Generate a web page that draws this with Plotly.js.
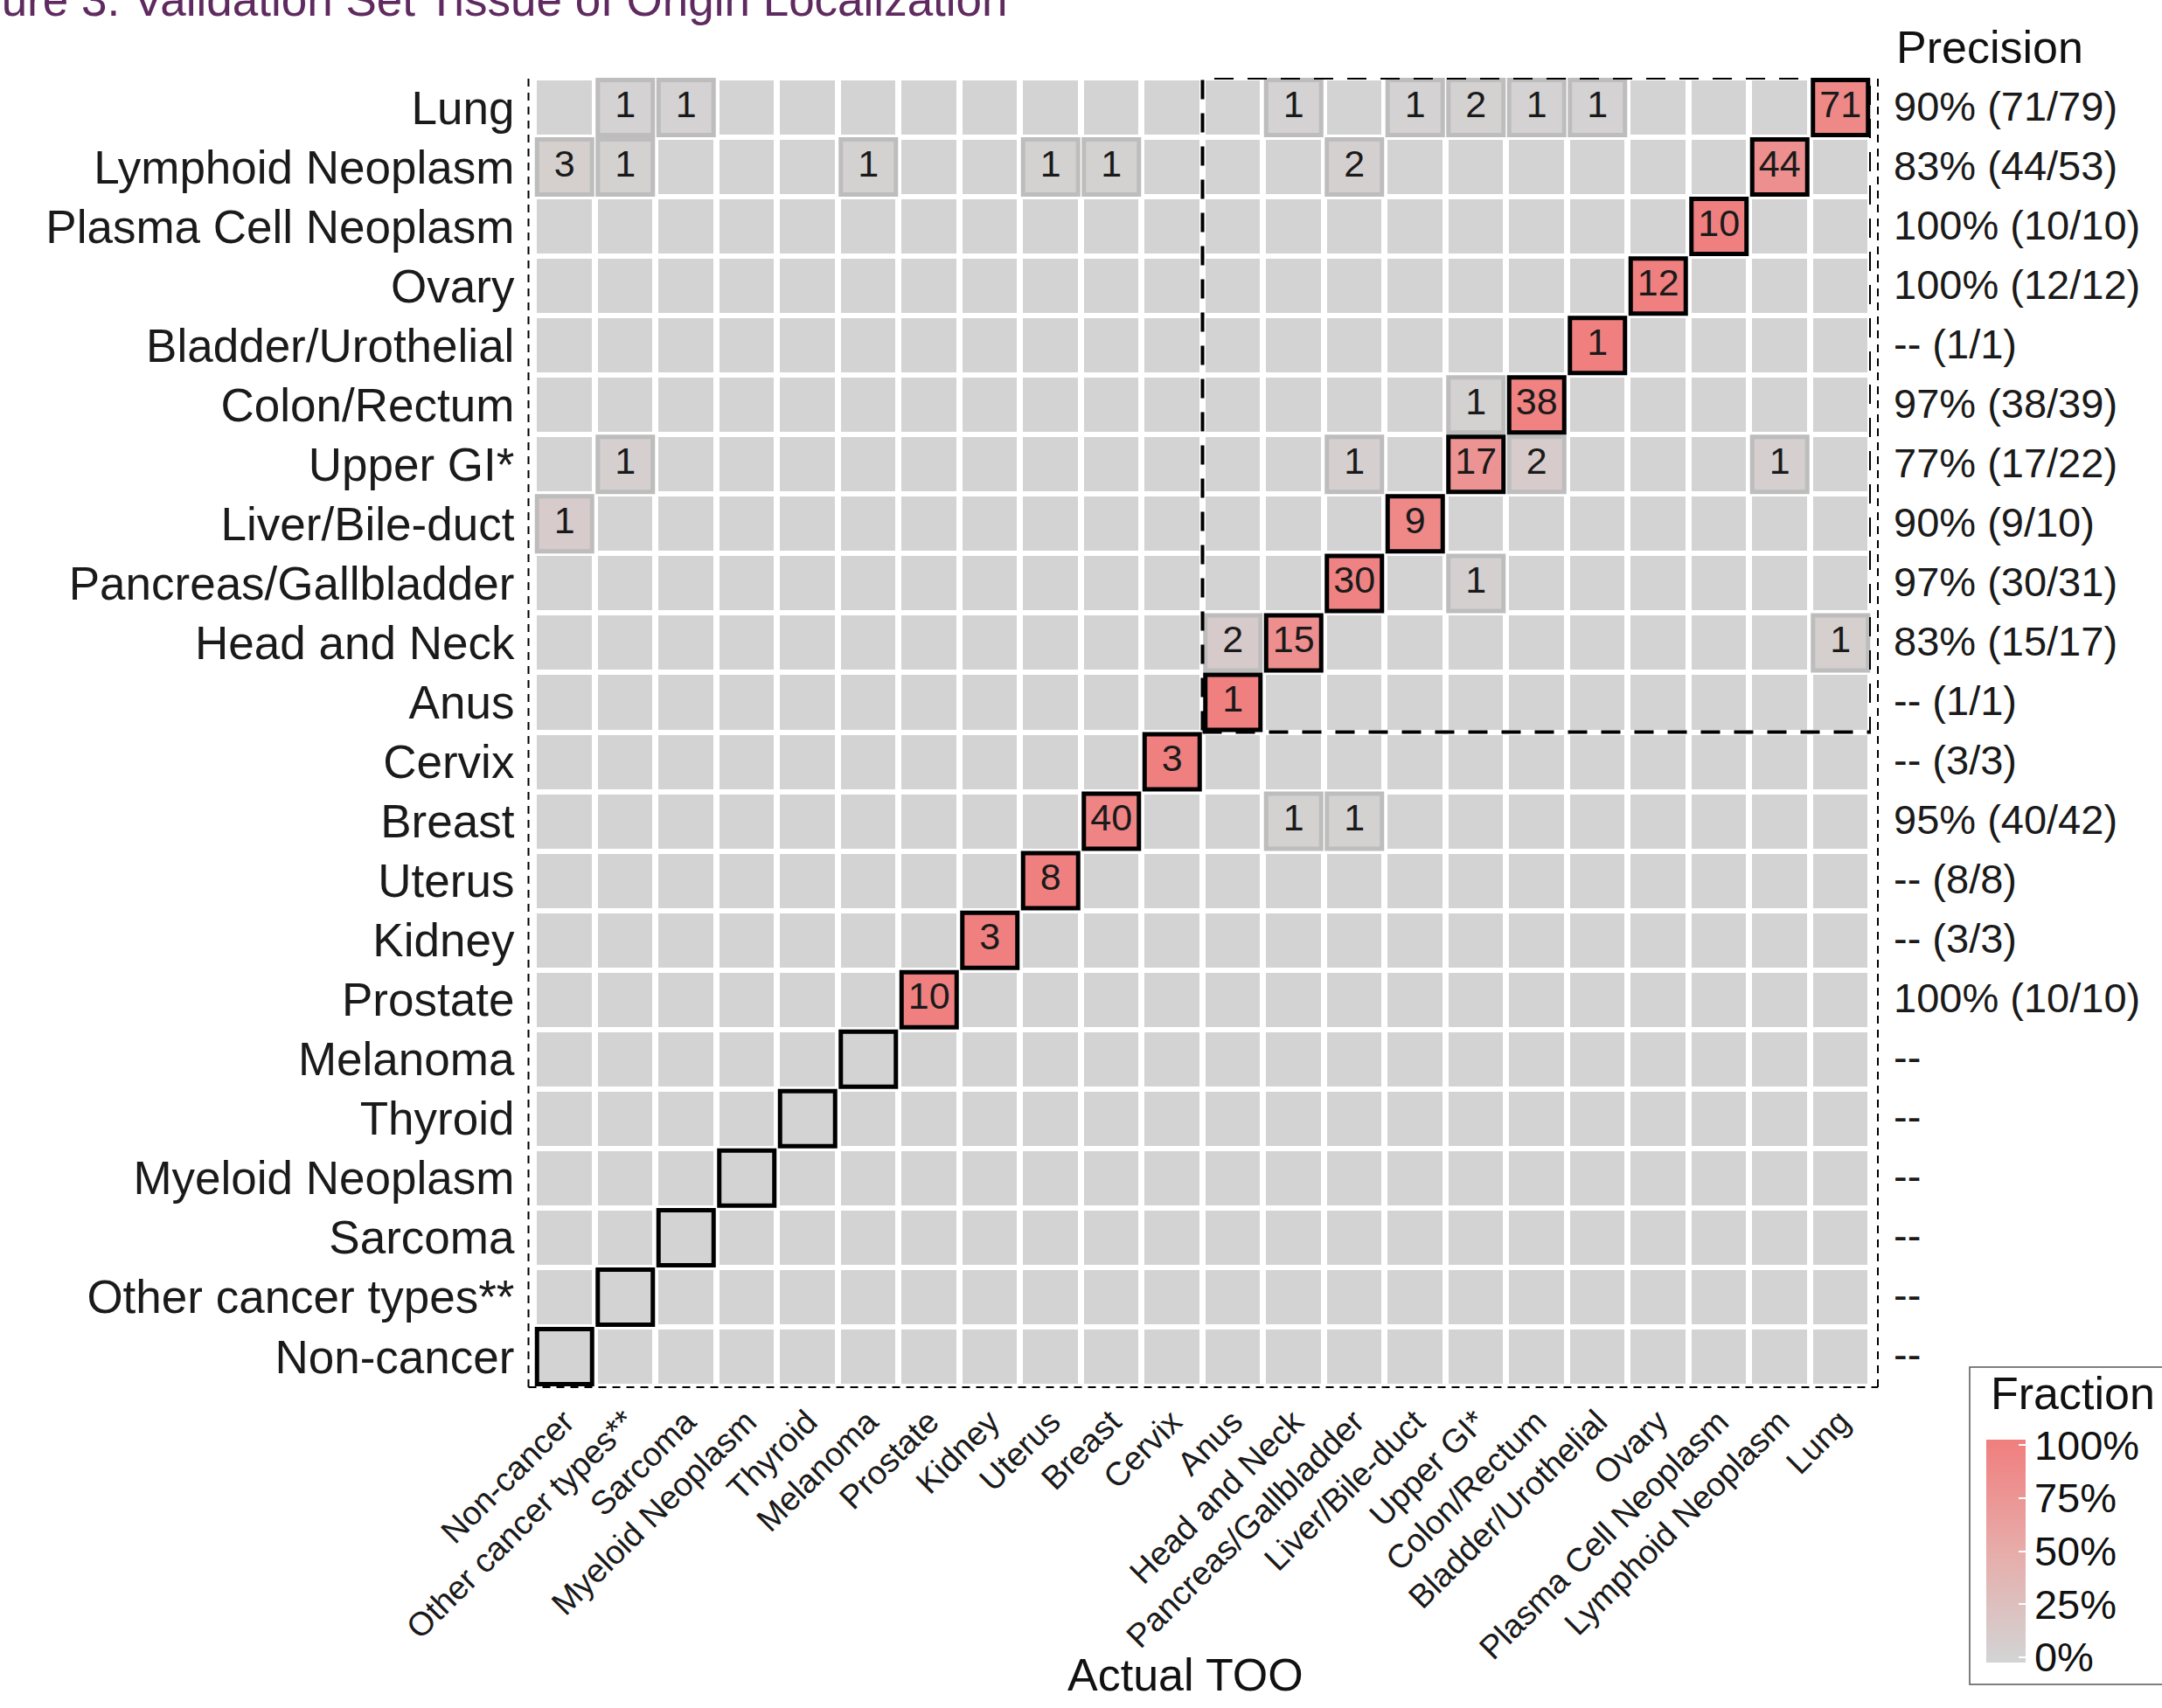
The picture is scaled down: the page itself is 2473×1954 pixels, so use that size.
<!DOCTYPE html>
<html>
<head>
<meta charset="utf-8">
<script src="https://cdn.plot.ly/plotly-3.0.1.min.js"></script>
<style>html,body{margin:0;padding:0;background:#fff;}#chart{width:2473px;height:1954px;}</style>
</head>
<body>
<div id="chart"></div>
<script>
// ---- data ----
const categories = ['Non-cancer','Other cancer types**','Sarcoma','Myeloid Neoplasm','Thyroid','Melanoma','Prostate','Kidney','Uterus','Breast','Cervix','Anus','Head and Neck','Pancreas/Gallbladder','Liver/Bile-duct','Upper GI*','Colon/Rectum','Bladder/Urothelial','Ovary','Plasma Cell Neoplasm','Lymphoid Neoplasm','Lung'];

const cellPredicted = [
  'Lung','Lung','Lung','Lung','Lung','Lung','Lung','Lung',
  'Lymphoid Neoplasm','Lymphoid Neoplasm','Lymphoid Neoplasm','Lymphoid Neoplasm','Lymphoid Neoplasm','Lymphoid Neoplasm','Lymphoid Neoplasm',
  'Plasma Cell Neoplasm','Ovary','Bladder/Urothelial',
  'Colon/Rectum','Colon/Rectum',
  'Upper GI*','Upper GI*','Upper GI*','Upper GI*','Upper GI*',
  'Liver/Bile-duct','Liver/Bile-duct',
  'Pancreas/Gallbladder','Pancreas/Gallbladder',
  'Head and Neck','Head and Neck','Head and Neck',
  'Anus','Cervix',
  'Breast','Breast','Breast',
  'Uterus','Kidney','Prostate'
];
const cellActual = [
  'Other cancer types**','Sarcoma','Head and Neck','Liver/Bile-duct','Upper GI*','Colon/Rectum','Bladder/Urothelial','Lung',
  'Non-cancer','Other cancer types**','Melanoma','Uterus','Breast','Pancreas/Gallbladder','Lymphoid Neoplasm',
  'Plasma Cell Neoplasm','Ovary','Bladder/Urothelial',
  'Upper GI*','Colon/Rectum',
  'Other cancer types**','Pancreas/Gallbladder','Upper GI*','Colon/Rectum','Lymphoid Neoplasm',
  'Non-cancer','Liver/Bile-duct',
  'Pancreas/Gallbladder','Upper GI*',
  'Anus','Head and Neck','Lung',
  'Anus','Cervix',
  'Breast','Head and Neck','Pancreas/Gallbladder',
  'Uterus','Kidney','Prostate'
];
const cellCount = [
  1,1,1,1,2,1,1,71,
  3,1,1,1,1,2,44,
  10,12,1,
  1,38,
  1,1,17,2,1,
  1,9,
  30,1,
  2,15,1,
  1,3,
  40,1,1,
  8,3,10
];

const precisionLabels = ['--','--','--','--','--','--','100% (10/10)','-- (3/3)','-- (8/8)','95% (40/42)','-- (3/3)','-- (1/1)','83% (15/17)','97% (30/31)','90% (9/10)','77% (17/22)','97% (38/39)','-- (1/1)','100% (12/12)','100% (10/10)','83% (44/53)','90% (71/79)'];

const fractionTickVals = [0, 0.25, 0.5, 0.75, 1];
const fractionTickText = ['0%','25%','50%','75%','100%'];

// ---- derived ----
const n = categories.length;
const idx = {}; categories.forEach((c,i)=>idx[c]=i);
const rowTotal = new Array(n).fill(0);
cellPredicted.forEach((p,k)=>{ rowTotal[idx[p]] += cellCount[k]; });
const z = [];
for (let r=0;r<n;r++){ z.push(new Array(n).fill(0)); }
cellPredicted.forEach((p,k)=>{ z[idx[p]][idx[cellActual[k]]] = cellCount[k]/rowTotal[idx[p]]; });

// bordered cells
const grayX=[],grayY=[],grayC=[];
const blackX=[],blackY=[],blackC=[];
cellPredicted.forEach((p,k)=>{
  const a = cellActual[k];
  if (p !== a){ grayX.push(a); grayY.push(p); grayC.push(z[idx[p]][idx[a]]); }
});
categories.forEach((c,i)=>{ blackX.push(c); blackY.push(c); blackC.push(z[i][i]); });

// ---- layout geometry (px) ----
const W=2473, H=1954;
const L=611, R=2140, T=89, B=1586;
const pw=R-L, ph=B-T;
const px2x = v => (v-L)/pw;
const px2y = v => (B-v)/ph;

const FONT = 'Liberation Sans, Arial, sans-serif';
const cmin=-0.025, cmax=1.025;
const colorscale = [[0,'#D3D3D3'],[0.0238,'#D3D3D3'],[0.5,'rgb(231,172,169)'],[0.976,'#F08080'],[1,'#F08080']];

const heat = {
  type:'heatmap', x:categories, y:categories, z:z,
  zmin:cmin, zmax:cmax, colorscale:colorscale,
  xgap:7, ygap:6, hoverinfo:'skip',
  showscale:true,
  colorbar:{
    x:px2x(2272), xanchor:'left', xpad:0, ypad:0,
    y:px2y(1774.5), yanchor:'middle',
    thickness:45, thicknessmode:'pixels',
    len:255, lenmode:'pixels',
    outlinewidth:0, borderwidth:0,
    tickvals:fractionTickVals, ticktext:fractionTickText,
    ticks:'inside', ticklen:8, tickcolor:'#ffffff', tickwidth:2,
    tickfont:{family:FONT, size:47, color:'#111'}
  }
};
const sqSize = 63;
const grayTiles = {
  type:'scatter', mode:'markers', x:grayX, y:grayY, hoverinfo:'skip', showlegend:false,
  marker:{symbol:'square', size:sqSize, color:grayC, cmin:cmin, cmax:cmax, colorscale:colorscale, showscale:false,
    line:{color:'#BDBDBD', width:5}}
};
const blackTiles = {
  type:'scatter', mode:'markers', x:blackX, y:blackY, hoverinfo:'skip', showlegend:false,
  marker:{symbol:'square', size:sqSize, color:blackC, cmin:cmin, cmax:cmax, colorscale:colorscale, showscale:false,
    line:{color:'#000000', width:5}}
};
const labels = {
  type:'scatter', mode:'text', x:cellActual, y:cellPredicted, text:cellCount.map(String),
  textfont:{family:FONT, size:43, color:'#1a1a1a'}, hoverinfo:'skip', showlegend:false
};

const annotations = [];
categories.forEach((c,i)=>{
  annotations.push({xref:'paper', yref:'y', x:1, y:c, xshift:24, yshift:2, xanchor:'left', yanchor:'middle',
    text:precisionLabels[i], showarrow:false, font:{family:FONT, size:47, color:'#1a1a1a'}});
});
annotations.push({xref:'paper', yref:'paper', x:px2x(2167), y:px2y(54), xanchor:'left', yanchor:'middle',
  text:'Precision', showarrow:false, font:{family:FONT, size:52, color:'#111'}});
annotations.push({xref:'paper', yref:'paper', x:px2x(2275), y:px2y(1594), xanchor:'left', yanchor:'middle',
  text:'Fraction', showarrow:false, font:{family:FONT, size:52, color:'#111'}});
annotations.push({xref:'paper', yref:'paper', x:px2x(1356), y:px2y(1916), xanchor:'center', yanchor:'middle',
  text:'Actual TOO', showarrow:false, font:{family:FONT, size:52, color:'#111'}});
annotations.push({xref:'paper', yref:'paper', x:px2x(-74), y:px2y(0), xanchor:'left', yanchor:'middle',
  text:'Figure 3. Validation Set Tissue of Origin Localization', showarrow:false, font:{family:FONT, size:53, color:'#5F2A5F'}});

const thinDash = {color:'#000', width:2, dash:'9px,7px'};
const thickDash = {color:'#000', width:4, dash:'22px,16px'};
const shapes = [
  // legend frame
  {type:'rect', xref:'paper', yref:'paper', x0:px2x(2253), x1:px2x(2600), y0:px2y(1564), y1:px2y(1927),
   line:{color:'#555', width:1.5}, fillcolor:'rgba(0,0,0,0)', layer:'below'},
  // axis lines (dashed)
  {type:'line', xref:'paper', yref:'paper', x0:px2x(604.5), x1:px2x(604.5), y0:px2y(B+1), y1:px2y(T), line:thinDash, layer:'above'},
  {type:'line', xref:'paper', yref:'paper', x0:px2x(604.5), x1:px2x(2148), y0:px2y(B+1), y1:px2y(B+1), line:thinDash, layer:'above'},
  {type:'line', xref:'paper', yref:'paper', x0:px2x(2148), x1:px2x(2148), y0:px2y(B+1), y1:px2y(T), line:thinDash, layer:'above'},
  // highlighted block
  {type:'rect', xref:'x', yref:'y', x0:10.5, x1:21.5, y0:10.5, y1:21.5, line:thickDash, fillcolor:'rgba(0,0,0,0)', layer:'above'}
];

const layout = {
  width:W, height:H,
  margin:{l:L, r:W-R, t:T, b:H-B, pad:0},
  paper_bgcolor:'#fff', plot_bgcolor:'#fff',
  showlegend:false,
  xaxis:{type:'category', categoryorder:'array', categoryarray:categories, range:[-0.5,21.5],
    showgrid:false, zeroline:false, showline:false,
    ticks:'outside', ticklen:2, tickcolor:'rgba(0,0,0,0)', tickangle:-45,
    tickfont:{family:FONT, size:38, color:'#1a1a1a'}, fixedrange:true},
  yaxis:{type:'category', categoryorder:'array', categoryarray:categories, range:[-0.5,21.5],
    showgrid:false, zeroline:false, showline:false,
    ticks:'outside', ticklen:11, tickcolor:'rgba(0,0,0,0)',
    tickfont:{family:FONT, size:53, color:'#1a1a1a'}, fixedrange:true},
  annotations:annotations,
  shapes:shapes
};

Plotly.newPlot('chart', [heat, grayTiles, blackTiles, labels], layout, {displayModeBar:false, staticPlot:true});
</script>
</body>
</html>
